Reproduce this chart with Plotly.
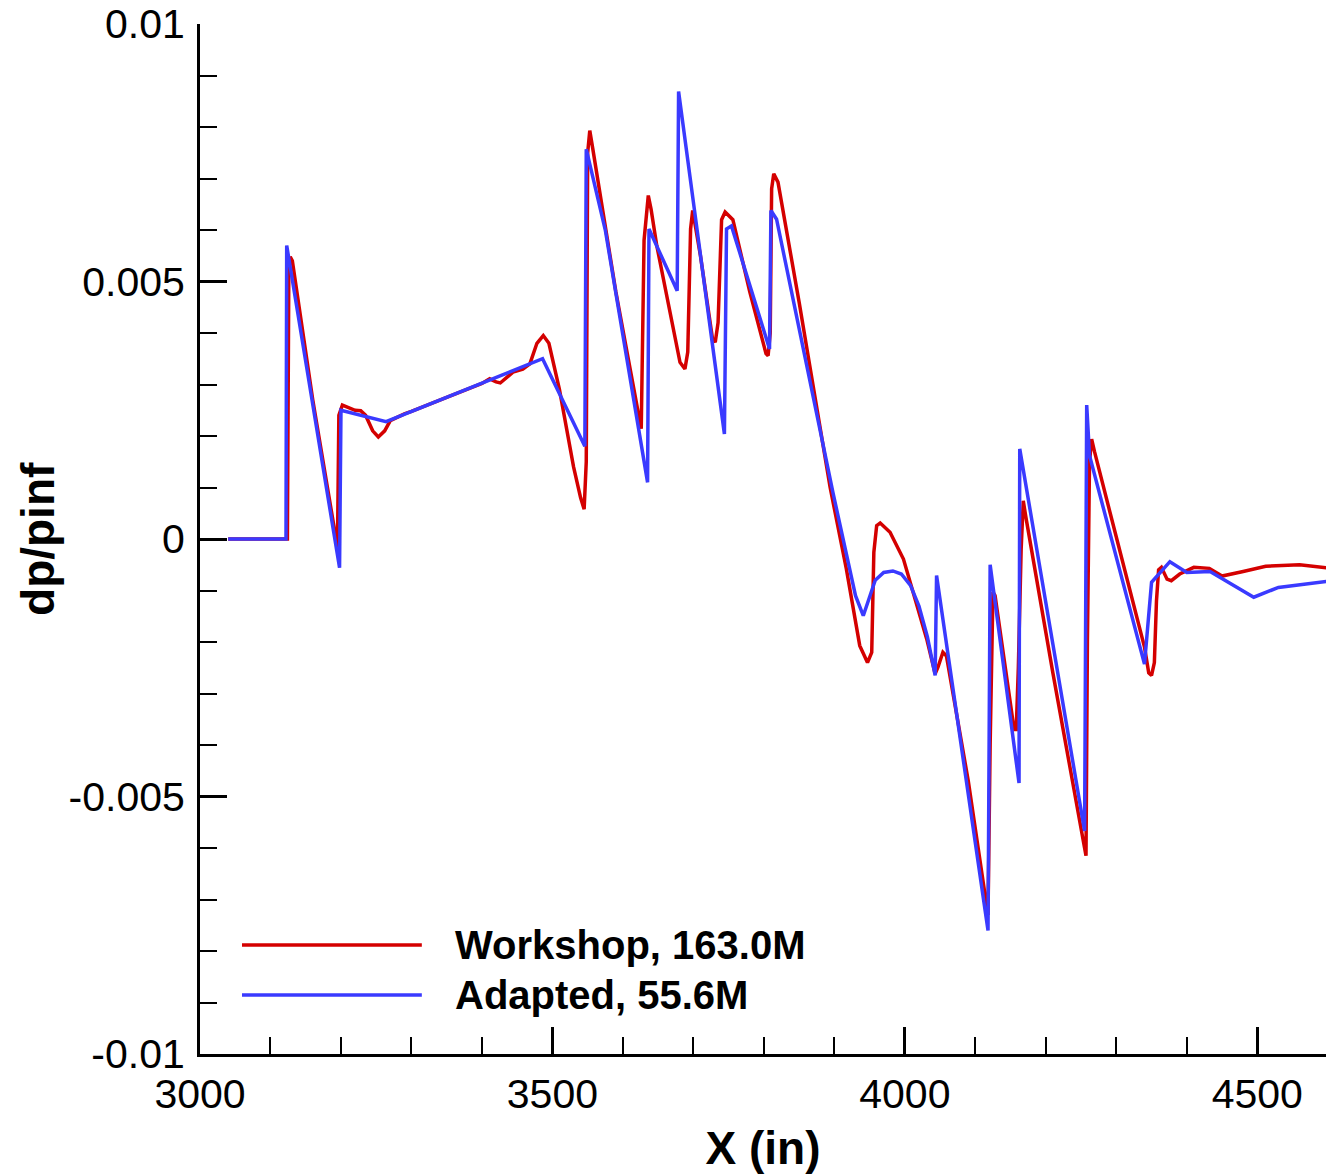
import plotly.graph_objects as go

# ---- data ----
workshop_x = [3040, 3124, 3126, 3128, 3131, 3160, 3195, 3197, 3202, 3210, 3220, 3228, 3235,
              3245, 3253, 3262, 3270, 3290, 3300, 3350, 3400, 3411, 3420, 3426, 3444, 3458,
              3468, 3478, 3487, 3495, 3510, 3530, 3540, 3545, 3548, 3550, 3553, 3557, 3590,
              3626, 3630, 3636, 3640, 3648, 3667, 3681, 3688, 3692, 3696, 3699, 3710, 3727,
              3731, 3735, 3740, 3745, 3756, 3780, 3803, 3806, 3809, 3811, 3814, 3820, 3850,
              3894, 3917, 3936, 3947, 3953, 3956, 3960, 3965, 3979, 3998, 4017, 4031, 4043,
              4047, 4054, 4059, 4090, 4118, 4121, 4125, 4128, 4150, 4155, 4158, 4161, 4165,
              4168, 4172, 4210, 4255, 4257, 4259, 4262, 4265, 4269, 4291, 4331, 4340, 4346,
              4350, 4354, 4357, 4360, 4364, 4372, 4378, 4390, 4410, 4432, 4450, 4480, 4512,
              4560, 4600]
workshop_y = [0.0, 0.0, 0.0052, 0.00548, 0.0054, 0.0027, -0.00016, 0.0024, 0.0026, 0.00255,
              0.0025, 0.00249, 0.0024, 0.0021, 0.00198, 0.0021, 0.0023, 0.00243, 0.00248,
              0.00275, 0.00302, 0.00311, 0.00305, 0.00303, 0.00324, 0.0033, 0.0034, 0.0038,
              0.00395, 0.0038, 0.0029, 0.0014, 0.0008, 0.00058, 0.0015, 0.0075, 0.00793,
              0.0076, 0.0048, 0.00214, 0.0058, 0.00667, 0.0064, 0.0057, 0.0044, 0.00343,
              0.0033, 0.00363, 0.00602, 0.00638, 0.0055, 0.0039, 0.00382, 0.0042, 0.0062,
              0.00635, 0.0062, 0.0048, 0.0036, 0.00356, 0.0040, 0.0068, 0.00709, 0.00693,
              0.0046, 0.001, -0.00058, -0.00207, -0.0024, -0.0022, -0.00026, 0.00026, 0.00031,
              0.00013, -0.00039, -0.0013, -0.00194, -0.00262, -0.00249, -0.0022, -0.00227,
              -0.0047, -0.0073, -0.0040, -0.00103, -0.0011, -0.0032, -0.0037, -0.0037, -0.0025,
              -0.0002, 0.00074, 0.0004, -0.0026, -0.0060, -0.00615, -0.0020, 0.0015, 0.00194,
              0.0017, 0.00052, -0.00161, -0.0021, -0.0026, -0.00265, -0.0024, -0.0012, -0.0006,
              -0.00055, -0.00078, -0.00081, -0.00068, -0.00055, -0.00057, -0.00072, -0.00063,
              -0.00053, -0.0005, -0.00056]

adapted_x = [3040, 3122, 3123, 3198, 3200, 3264, 3486, 3546, 3548, 3575, 3635, 3637, 3677,
             3679, 3744, 3747, 3754, 3808, 3810, 3818, 3898, 3930, 3941, 3948, 3958, 3970,
             3983, 3995, 4008, 4020, 4032, 4043, 4045, 4118, 4121, 4162, 4163, 4255, 4258,
             4262, 4340, 4350, 4376, 4400, 4433, 4495, 4530, 4600]
adapted_y = [0.0, 0.0, 0.0057, -0.00056, 0.0025, 0.00228, 0.0035, 0.0018, 0.00757, 0.0060,
             0.0011, 0.00602, 0.00482, 0.00869, 0.00204, 0.00602, 0.00608, 0.00369, 0.00638,
             0.00621, 0.0009, -0.0011, -0.00149, -0.0012, -0.0008, -0.00065, -0.00062,
             -0.00068, -0.0009, -0.0013, -0.0019, -0.00265, -0.00071, -0.0076, -0.0005,
             -0.00474, 0.00175, -0.00567, 0.0026, 0.00162, -0.00243, -0.00084, -0.00044,
             -0.00065, -0.00063, -0.00113, -0.00094, -0.00082]

series_names = ["Workshop, 163.0M", "Adapted, 55.6M"]
series_colors = ["#d40000", "#3a3aff"]

x_tickvals = [3000, 3500, 4000, 4500]
x_ticktext = ["3000", "3500", "4000", "4500"]
y_tickvals = [0.01, 0.005, 0, -0.005, -0.01]
y_ticktext = ["0.01", "0.005", "0", "-0.005", "-0.01"]

FONT = "Liberation Sans, Arial, Helvetica, sans-serif"

fig = go.Figure()
fig.add_trace(go.Scatter(x=workshop_x, y=workshop_y, mode="lines", name=series_names[0],
                         line=dict(color=series_colors[0], width=3.5), showlegend=False))
fig.add_trace(go.Scatter(x=adapted_x, y=adapted_y, mode="lines", name=series_names[1],
                         line=dict(color=series_colors[1], width=3.5), showlegend=False))

# custom legend with long line samples
leg_y = [0.1058, 0.0573]
for name, col, yy in zip(series_names, series_colors, leg_y):
    fig.add_shape(type="line", xref="paper", yref="paper", x0=0.0373, x1=0.197, y0=yy, y1=yy,
                  line=dict(color=col, width=3.5))
    fig.add_annotation(xref="paper", yref="paper", x=0.2247, y=yy, xanchor="left", yanchor="middle",
                       text="<b>%s</b>" % name, showarrow=False,
                       font=dict(family=FONT, size=40, color="black"))

# y-axis title as a rotated annotation (exact placement)
fig.add_annotation(xref="paper", yref="paper", x=-0.1439, y=0.5, xanchor="center", yanchor="middle",
                   text="<b>dp/pinf</b>", textangle=-90, showarrow=False,
                   font=dict(family=FONT, size=46, color="black"))

fig.update_layout(
    width=1326, height=1174,
    margin=dict(l=200, r=0, t=24, b=120),
    paper_bgcolor="white", plot_bgcolor="white",
    font=dict(family=FONT, color="black"),
)
fig.update_xaxes(
    range=[3000, 4597.5], tickvals=x_tickvals, ticktext=x_ticktext,
    ticks="inside", ticklen=27, tickwidth=3, tickcolor="black",
    minor=dict(dtick=100, tick0=3000, ticks="inside", ticklen=17, tickwidth=2, tickcolor="black"),
    showline=True, linewidth=3, linecolor="black", mirror=False,
    showgrid=False, zeroline=False, automargin=False, ticklabeloverflow="allow",
    tickfont=dict(family=FONT, size=41, color="black"), ticklabelstandoff=2,
    title=dict(text="<b>X (in)</b>", font=dict(family=FONT, size=46, color="black"), standoff=16),
)
fig.update_yaxes(
    range=[-0.01, 0.01], tickvals=y_tickvals, ticktext=y_ticktext,
    ticks="inside", ticklen=27, tickwidth=3, tickcolor="black",
    minor=dict(dtick=0.001, tick0=0, ticks="inside", ticklen=17, tickwidth=2, tickcolor="black"),
    showline=True, linewidth=3, linecolor="black", mirror=False,
    showgrid=False, zeroline=False, automargin=False, ticklabeloverflow="allow",
    tickfont=dict(family=FONT, size=41, color="black"), ticklabelstandoff=4,
)

# remove the default 8px page margin so the figure fills the window exactly
fig.write_html("out.html", config={"displayModeBar": False},
               post_script="document.body.style.margin='0';document.body.style.overflow='hidden';")
